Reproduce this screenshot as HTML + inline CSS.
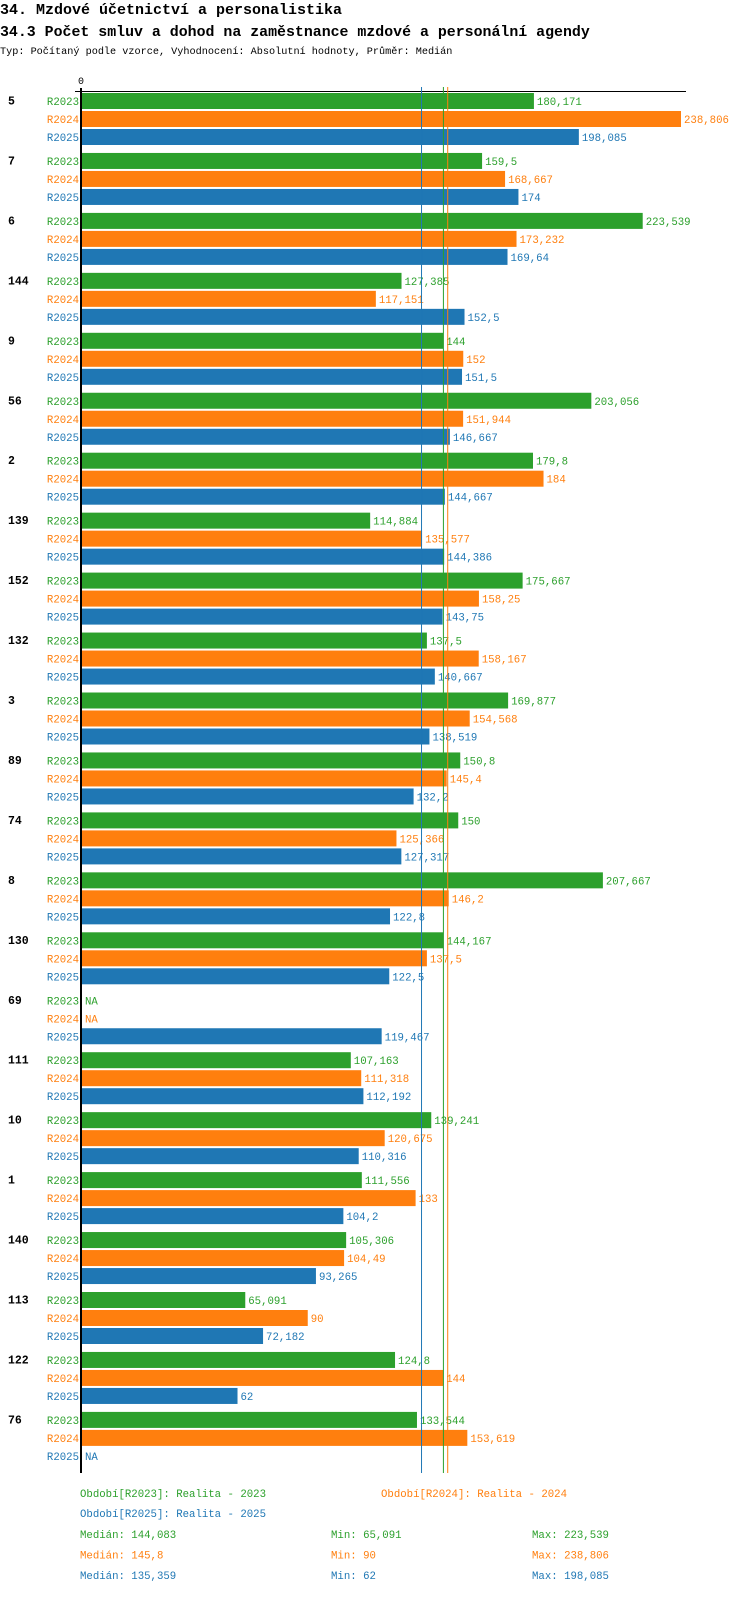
<!DOCTYPE html>
<html><head><meta charset="utf-8"><style>
body{margin:0;background:#fff;width:750px;height:1592px;overflow:hidden;font-family:"Liberation Mono",monospace;}
svg text{font-family:"Liberation Mono",monospace;}
</style></head><body>
<svg id="chart" width="750" height="1592" xmlns="http://www.w3.org/2000/svg">
<text x="0" y="14" font-size="15" font-weight="bold">34. Mzdové účetnictví a personalistika</text>
<text x="0" y="36" font-size="14.9" font-weight="bold">34.3 Počet smluv a dohod na zaměstnance mzdové a personální agendy</text>
<text x="0" y="54" font-size="10.2">Typ: Počítaný podle vzorce, Vyhodnocení: Absolutní hodnoty, Průměr: Medián</text>
<g id="plot"></g>
<g id="legend"></g>
</svg>
<script>
const categories=["5","7","6","144","9","56","2","139","152","132","3","89","74","8","130","69","111","10","1","140","113","122","76"];
const seriesNames=["R2023","R2024","R2025"];
const r2023=[180.171,159.5,223.539,127.385,144,203.056,179.8,114.884,175.667,137.5,169.877,150.8,150,207.667,144.167,null,107.163,139.241,111.556,105.306,65.091,124.8,133.544];
const r2024=[238.806,168.667,173.232,117.151,152,151.944,184,135.577,158.25,158.167,154.568,145.4,125.366,146.2,137.5,null,111.318,120.675,133,104.49,90,144,153.619];
const r2025=[198.085,174,169.64,152.5,151.5,146.667,144.667,144.386,143.75,140.667,138.519,132.2,127.317,122.8,122.5,119.467,112.192,110.316,104.2,93.265,72.182,62,null];
const medians=[144.083,145.8,135.359];
const mins=[65.091,90,62];
const maxs=[223.539,238.806,198.085];
const periodLabels=["Období[R2023]: Realita - 2023","Období[R2024]: Realita - 2024","Období[R2025]: Realita - 2025"];
const colors=["#2ca02c","#ff7f0e","#1f77b4"];
const series=[r2023,r2024,r2025];
const NS="http://www.w3.org/2000/svg";
const x0=82,scale=599/238.806;
const xs=v=>x0+v*scale;
const groupTop=g=>93+g*59.95;
const fmt=v=>String(v).replace('.',',');
const plot=document.getElementById('plot');
function mk(tag,attrs,parent){const e=document.createElementNS(NS,tag);for(const k in attrs)e.setAttribute(k,attrs[k]);parent.appendChild(e);return e;}
const yEnd=1473;
let t=mk('line',{x1:75,y1:91.5,x2:686,y2:91.5,stroke:'#000','stroke-width':1},plot);


t=mk('text',{x:78,y:84,'font-size':10},plot);t.textContent='0';


categories.forEach((c,g)=>{
  const gt=groupTop(g);
  let lab=mk('text',{x:8,y:gt+11.5,'font-size':11.5,'font-weight':'bold'},plot);lab.textContent=c;
  
  
  series.forEach((s,i)=>{
    const y=gt+i*18;const v=s[g];
    let sl=mk('text',{x:79,y:y+12,'font-size':10.7,'text-anchor':'end',fill:colors[i]},plot);sl.textContent=seriesNames[i];
    
    
    if(v!==null){
      let r=mk('rect',{x:x0,y:y,width:xs(v)-x0,height:16,fill:colors[i]},plot);
      
      
    }
    let vl=mk('text',{x:(v===null?x0:xs(v))+3,y:y+12,'font-size':10.7,fill:colors[i]},plot);
    vl.textContent=v===null?'NA':fmt(v);
    
    
  });
});
medians.forEach((m,i)=>{
  let l=mk('line',{x1:xs(m),y1:87,x2:xs(m),y2:yEnd,stroke:colors[i],'stroke-width':1},plot);
  
  
});
let ax=mk('line',{x1:81,y1:88,x2:81,y2:yEnd,stroke:'#000','stroke-width':2},plot);


const lg=document.getElementById('legend');
const lpos=[[80,1497],[381,1497],[80,1517]];
periodLabels.forEach((p,i)=>{
  let e=mk('text',{x:lpos[i][0],y:lpos[i][1],'font-size':10.7,fill:colors[i]},lg);e.textContent=p;
  
  
});
series.forEach((s,i)=>{
  const y=1538+i*20.4;
  [["Medián: ",medians[i],80],["Min: ",mins[i],331],["Max: ",maxs[i],532]].forEach(([k,v,x])=>{
    let e=mk('text',{x:x,y:y,'font-size':10.7,fill:colors[i]},lg);e.textContent=k+fmt(v);
    
    
  });
});
</script>
</body></html>
